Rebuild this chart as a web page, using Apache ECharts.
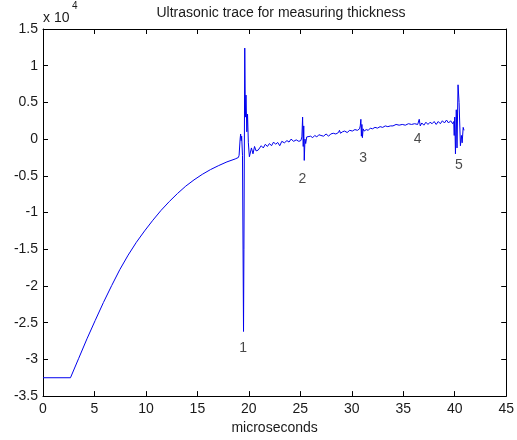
<!DOCTYPE html>
<html><head><meta charset="utf-8">
<script src="https://cdn.jsdelivr.net/npm/echarts@6/dist/echarts.min.js"></script>
<style>html,body{margin:0;padding:0;background:#fff}#c{width:517px;height:440px}</style>
</head><body><div id="c"></div>
<script>
// x in microseconds, y in units of 10^4
const traceX = [0,2.67,3.47,4.27,5.07,5.87,6.67,7.47,8.27,9.07,9.87,10.67,11.47,12.27,13.07,13.87,14.67,15.47,16.27,17.07,17.87,18.67,18.98,19.05,19.15,19.2,19.25,19.3,19.38,19.48,19.52,19.6,19.66,19.72,19.8,19.87,19.95,20.05,
20.25,20.4,20.55,20.7,20.9,21.05,21.2,21.4,21.6,21.8,22.0,22.2,22.4,22.6,22.8,23.0,23.2,23.45,23.7,23.9,24.1,24.35,24.6,24.85,25.05,
25.15,25.22,25.28,25.33,25.38,25.45,25.52,25.62,
25.8,26.0,26.2,26.4,26.6,26.8,27.0,27.25,27.5,27.65,27.75,27.95,28.2,28.45,28.7,28.8,28.9,29.1,29.3,29.55,29.8,30.05,30.3,30.55,30.75,
30.82,30.88,30.93,30.98,31.03,31.1,31.2,
31.4,31.6,31.8,32.0,32.25,32.5,32.75,33.0,33.25,33.5,33.75,34.0,34.3,34.6,34.9,35.2,35.5,35.8,36.1,36.4,36.55,36.65,36.8,37.0,37.2,37.4,37.6,37.8,38.0,38.2,38.4,38.6,38.8,39.0,39.2,39.4,39.6,39.8,39.9,
39.95,40.0,40.07,40.15,40.22,40.32,40.42,40.55,40.65,40.72,40.82,40.9];
const traceY = [-3.25,-3.25,-2.985,-2.72,-2.47,-2.225,-1.995,-1.775,-1.58,-1.405,-1.25,-1.105,-0.97,-0.85,-0.74,-0.64,-0.555,-0.48,-0.415,-0.36,-0.31,-0.27,-0.25,-0.22,0.0,0.07,-0.02,0.04,-0.22,-2.62,-1.5,1.24,0.3,0.6,0.1,0.34,-0.05,-0.24,
-0.12,-0.2,-0.1,-0.16,-0.15,-0.13,-0.09,-0.12,-0.07,-0.1,-0.06,-0.09,-0.04,-0.07,-0.045,-0.09,-0.03,-0.05,-0.02,-0.04,0.0,-0.03,-0.01,-0.03,-0.02,
0.03,0.3,-0.1,0.18,-0.29,0.0,-0.06,0.03,
0.01,0.04,0.02,0.05,0.03,0.06,0.05,0.04,0.07,0.07,0.04,0.07,0.08,0.07,0.09,0.12,0.08,0.1,0.11,0.09,0.12,0.11,0.13,0.12,0.14,
0.18,0.27,0.04,0.2,0.02,0.14,0.11,
0.13,0.12,0.15,0.14,0.16,0.15,0.17,0.16,0.18,0.17,0.18,0.18,0.2,0.19,0.2,0.19,0.21,0.2,0.21,0.2,0.27,0.18,0.22,0.19,0.23,0.2,0.23,0.21,0.24,0.2,0.24,0.21,0.25,0.22,0.26,0.22,0.25,0.21,0.24,
0.05,0.3,-0.2,0.4,-0.12,0.74,0.5,-0.09,0.05,-0.05,0.16,0.12];
const echoNames = ['1','2','3','4','5'];
const echoX = [19.45,25.2,31.1,36.4,40.4];
const echoY = [-2.84,-0.54,-0.26,0.0,-0.35];
const xTicks = [0,5,10,15,20,25,30,35,40,45];
const yTicks = [-3.5,-3,-2.5,-2,-1.5,-1,-0.5,0,0.5,1,1.5];

const FONT = 'Liberation Sans, Arial, sans-serif';
const TXT = '#1a1a1a';
const traceData = traceX.map((x,i)=>[x,traceY[i]]);
const echoData = echoX.map((x,i)=>({name:echoNames[i], value:[x,echoY[i]]}));

function axisCommon(){
  return {
    axisLine:{show:true,onZero:false,lineStyle:{color:'#000',width:1}},
    axisTick:{show:true,inside:true,length:5,lineStyle:{color:'#000'}},
    splitLine:{show:false}
  };
}
const chart = echarts.init(document.getElementById('c'), null, {renderer:'canvas'});
chart.setOption({
  animation:false,
  backgroundColor:'#fff',
  title:{text:'Ultrasonic trace for measuring thickness',left:276,textAlign:'center',top:1,
    textStyle:{fontFamily:FONT,fontSize:14,fontWeight:'normal',color:TXT}},
  grid:{left:43,right:7,top:29,bottom:42,containLabel:false},
  xAxis:[
    Object.assign(axisCommon(),{type:'value',min:xTicks[0],max:xTicks[xTicks.length-1],interval:5,position:'bottom',
      name:'microseconds',nameLocation:'middle',nameGap:22,
      nameTextStyle:{fontFamily:FONT,fontSize:14,color:TXT},
      axisLabel:{fontFamily:FONT,fontSize:14,color:TXT,margin:6}}),
    Object.assign(axisCommon(),{type:'value',min:xTicks[0],max:xTicks[xTicks.length-1],interval:5,position:'top',
      axisLabel:{show:false}})
  ],
  yAxis:[
    Object.assign(axisCommon(),{type:'value',min:yTicks[0],max:yTicks[yTicks.length-1],interval:0.5,position:'left',
      axisLabel:{fontFamily:FONT,fontSize:14,color:TXT,margin:5}}),
    Object.assign(axisCommon(),{type:'value',min:yTicks[0],max:yTicks[yTicks.length-1],interval:0.5,position:'right',
      axisLabel:{show:false}})
  ],
  graphic:[
    {type:'text',left:43,top:11,style:{text:'x 10',font:'14px '+FONT,fill:TXT}},
    {type:'text',left:72,top:1,style:{text:'4',font:'10px '+FONT,fill:TXT}}
  ],
  series:[
    {type:'line',data:traceData,showSymbol:false,symbol:'none',xAxisIndex:0,yAxisIndex:0,
      lineStyle:{color:'#0000ee',width:1},z:3},
    {type:'scatter',data:echoData,symbolSize:0,xAxisIndex:0,yAxisIndex:0,
      label:{show:true,position:'inside',formatter:p=>p.name,fontFamily:FONT,fontSize:14,color:TXT},z:4}
  ]
});
</script></body></html>
